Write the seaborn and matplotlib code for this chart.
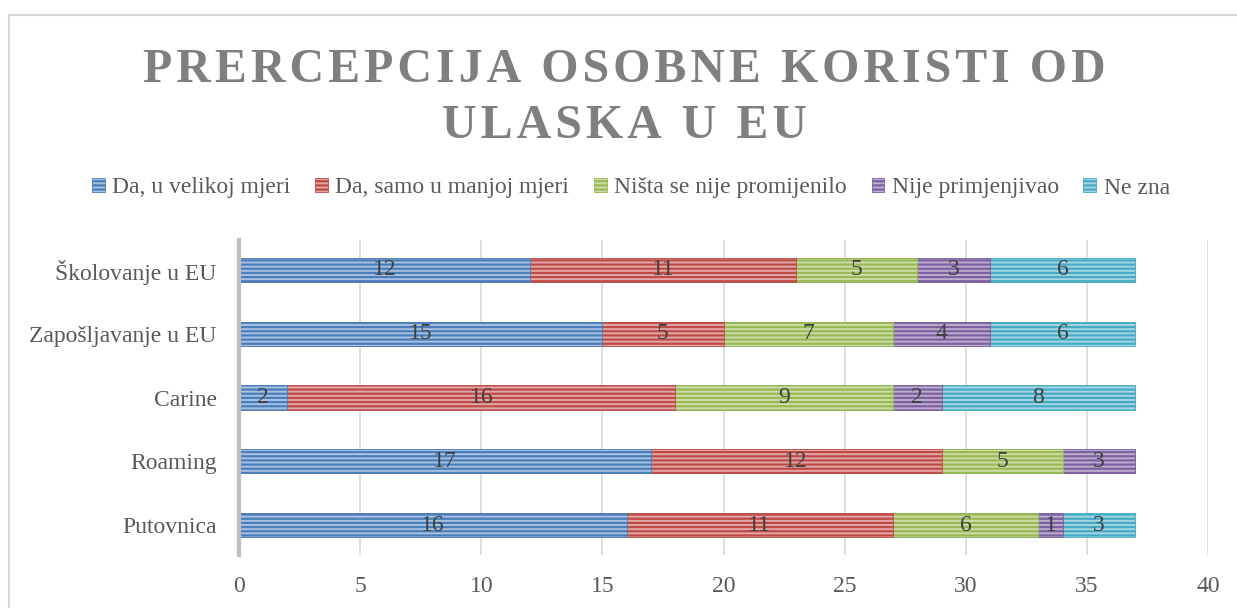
import matplotlib
matplotlib.use("Agg")
import matplotlib.pyplot as plt
import seaborn as sns
import numpy as np
from matplotlib.patches import Patch, Rectangle

categories = ["Školovanje u EU", "Zapošljavanje u EU", "Carine", "Roaming", "Putovnica"]
series_names = ["Da, u velikoj mjeri", "Da, samo u manjoj mjeri", "Ništa se nije promijenilo",
                "Nije primjenjivao", "Ne zna"]
veliko = [12, 15, 2, 17, 16]
manje = [11, 5, 16, 12, 11]
nista = [5, 7, 9, 5, 6]
nije = [3, 4, 2, 3, 1]
ne_zna = [6, 6, 8, 0, 3]
values = [veliko, manje, nista, nije, ne_zna]
title_lines = ["PRERCEPCIJA OSOBNE KORISTI OD", "ULASKA U EU"]

dark = ["#4A7EBB", "#BE4B48", "#98B954", "#7D60A0", "#46AAC5"]
light = ["#A9C2E2", "#E2A8A7", "#CCDDA9", "#BDAED1", "#A6D6E4"]

sns.set_style("white")
plt.rcParams["font.family"] = ["Liberation Serif", "DejaVu Serif"]
plt.rcParams["hatch.linewidth"] = 1.6

fig = plt.figure(figsize=(12.37, 6.08), dpi=100)
fig.patches.append(Rectangle((9 / 1237, -0.1), 1.2, (608 - 15) / 608 + 0.1, transform=fig.transFigure,
                             fill=False, edgecolor="#D9D9D9", linewidth=1.5))
ax = fig.add_axes([239 / 1237, 53 / 608, 969 / 1237, 315 / 608])

cum = np.cumsum(np.array(values), axis=0)
# draw cumulative totals from the widest down, so each segment shows
for i in range(len(values) - 1, -1, -1):
    n_before = len(ax.patches)
    sns.barplot(x=cum[i], y=categories, orient="h", color=dark[i], saturation=1,
                width=0.38, ax=ax, zorder=3)
    for p in ax.patches[n_before:]:
        p.set_facecolor(light[i])
        p.set_edgecolor(dark[i])
        p.set_hatch("----")
        p.set_linewidth(0.6)

for i, vals in enumerate(values):
    for j, v in enumerate(vals):
        if v > 0:
            ax.text(cum[i][j] - v / 2, j, str(v), ha="center", va="center",
                    fontsize=17, color="#404040", zorder=5)

ax.set_xlim(0, 40)
ax.set_ylim(4.47, -0.47)
ax.set_xticks(range(0, 41, 5))
ax.grid(axis="x", color="#D9D9D9", linewidth=1.2, zorder=0)
ax.set_axisbelow(True)
for s in ["top", "right", "bottom"]:
    ax.spines[s].set_visible(False)
ax.spines["left"].set_color("#BFBFBF")
ax.spines["left"].set_linewidth(3)
ax.spines["left"].set_zorder(4)
ax.tick_params(axis="x", length=0, pad=15, labelsize=17, labelcolor="#595959")
ax.tick_params(axis="y", length=0, pad=16, labelsize=17, labelcolor="#595959")
ax.set_xlabel("")
ax.set_ylabel("")

# letter-spaced title (hair spaces between letters)
for line, base in zip(title_lines, [82, 138]):
    spaced = "\u200a".join(line)
    fig.text(0.505, 1 - base / 608, spaced, ha="center", va="baseline",
             fontsize=34.5, fontweight="bold", color="#7F7F7F")

handles = [Patch(facecolor=light[i], edgecolor=dark[i], hatch="----", linewidth=0.6)
           for i in range(len(series_names))]
fig.legend(handles, series_names, loc="center", bbox_to_anchor=(0.51, 1 - 188 / 608), ncol=5,
           frameon=False, fontsize=17, handlelength=0.55, handleheight=0.55, handletextpad=0.3,
           columnspacing=1.05, labelcolor="#595959")

fig.savefig("out.png", dpi=100)
